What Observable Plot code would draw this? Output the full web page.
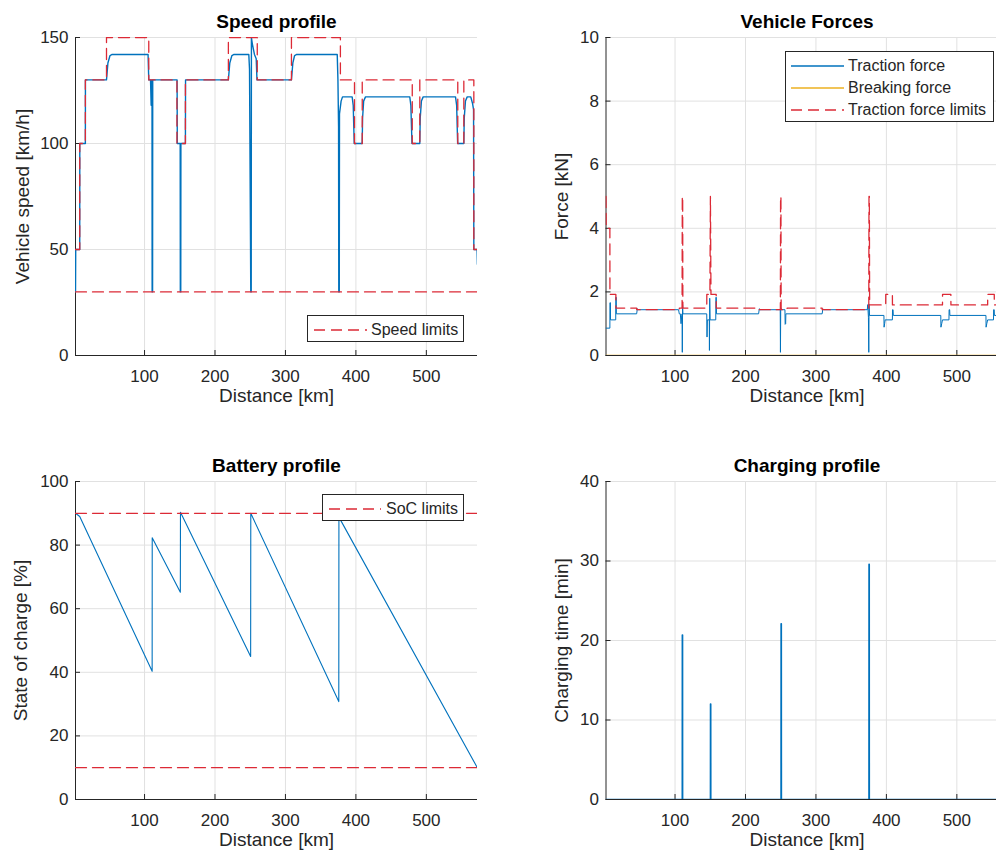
<!DOCTYPE html>
<html>
<head>
<meta charset="utf-8">
<script src="https://cdn.jsdelivr.net/npm/d3@7"></script>
<script src="https://cdn.jsdelivr.net/npm/@observablehq/plot@0.6"></script>
<style>
  html, body { margin: 0; padding: 0; background: #fff; }
  body { width: 996px; height: 860px; overflow: hidden; position: relative; font-family: "Liberation Sans", Arial, sans-serif; }
  .legend { position: absolute; background: #fff; border: 1px solid #262626; box-sizing: border-box; }
  .legend .row { position: absolute; left: 0; right: 0; height: 20px; }
  .legend svg { position: absolute; top: 0; }
  .legend span { position: absolute; top: 0; line-height: 20px; font-size: 16px; color: #262626; white-space: nowrap; }
</style>
</head>
<body>
<script>
// ---------- shared axis values ----------
const xDomain = [2, 572.6];
const xTicks = [100, 200, 300, 400, 500];
const speedTicks = [0, 50, 100, 150];
const forceTicks = [0, 2, 4, 6, 8, 10];
const socTicks = [0, 20, 40, 60, 80, 100];
const chargeTicks = [0, 10, 20, 30, 40];

// ---------- Speed profile [distance km, speed km/h] ----------
const vehicleSpeed = [[2,30],[2.3,50],[8,50],[8.1,100],[16,100],[16.1,130],[46,130],[48,138],[51,141.5],[54,142],[105,142],[106,130],[108.5,130],[109.4,118],[110.2,130],[110.6,130],[110.8,30],[111.4,30],[111.6,130],[146.2,130],[146.5,100],[150.6,100],[150.8,30],[151.4,30],[151.6,100],[158,100],[158.2,130],[219,130],[221,138],[224,141.5],[227,142],[248,142],[249,135],[250.8,30],[251.4,30],[251.7,150],[253,147],[256,142],[258.5,140],[259.6,130],[308.5,130],[310.5,138],[313,141.5],[316,142],[373.5,142],[374.5,130],[375.4,108],[375.7,30],[376.4,30],[376.7,114],[379,120],[381,122],[394.7,122],[396.2,118],[397.6,100],[408.9,100],[409.5,112],[411,120],[413.6,122],[476.5,122],[478,118],[479.6,100],[490.7,100],[491.3,112],[493,120],[495.5,122],[541.4,122],[543,118],[544.4,100],[553.2,100],[553.8,112],[555.5,120],[558,122],[563,122],[565.5,119],[567,116],[567.4,50],[572,50],[572.5,43]];
const speedLimitMax = [[2,50],[8,50],[8,100],[16,100],[16,130],[46,130],[46,150],[106,150],[106,130],[146,130],[146,100],[158,100],[158,130],[219,130],[219,150],[260,150],[260,130],[308.5,130],[308.5,150],[378,150],[378,130],[398,130],[398,100],[409,100],[409,130],[480,130],[480,100],[490.7,100],[490.7,130],[544.6,130],[544.6,100],[553.2,100],[553.2,130],[567.4,130],[567.4,50],[572.6,50]];
const speedLimitMin = [[2,30],[572.6,30]];

// ---------- Vehicle forces [distance km, force kN] ----------
const tractionForce = [[2,0.86],[7.5,0.86],[7.6,1.66],[8.3,1.66],[8.4,1.12],[15.8,1.12],[15.9,1.83],[16.6,1.83],[16.7,1.31],[45.5,1.31],[46.5,1.47],[48,1.44],[105,1.44],[106,1.31],[107.5,1.31],[108.5,1.0],[109.5,1.25],[110,1.31],[110.3,0.1],[110.7,1.6],[111.2,1.31],[145,1.31],[145.4,0.58],[145.9,1.12],[148.6,1.12],[148.8,0.16],[149.2,1.8],[149.8,1.12],[157.8,1.12],[158,1.83],[158.6,1.83],[158.8,1.31],[218.6,1.31],[219.6,1.47],[221,1.44],[249.3,1.44],[249.6,0.1],[250,1.5],[250.6,1.44],[256,1.44],[256.3,0.98],[257,1.0],[257.3,1.31],[308.8,1.31],[309.8,1.47],[311,1.44],[372.9,1.44],[373.5,1.6],[374.5,1.2],[375,0.1],[375.4,1.62],[376,1.26],[396.5,1.26],[396.7,0.89],[397.5,1.0],[398.2,1.12],[408.5,1.12],[408.7,1.44],[409.5,1.44],[409.8,1.26],[477.2,1.26],[477.4,0.89],[478.5,1.0],[479.6,1.12],[488.8,1.12],[489,1.44],[489.8,1.44],[490.1,1.26],[541.3,1.26],[541.5,0.89],[542.5,1.0],[543.7,1.12],[552,1.12],[552.2,1.44],[553,1.44],[553.3,1.26],[566.5,1.26],[567,0.5],[567.5,0.86],[572.5,0.86]];
const breakingForce = [[2,0],[572.6,0]];
const tractionLimit = [[2,5],[2.3,4],[7.5,4],[7.6,1.92],[16,1.92],[16.1,1.49],[45.5,1.49],[45.6,1.44],[106,1.44],[106.1,1.49],[110,1.49],[110.3,5],[110.8,5],[111.1,1.49],[145,1.49],[145.1,1.92],[149.5,1.92],[150.2,5],[151,1.92],[158.4,1.92],[158.5,1.49],[218.6,1.49],[218.7,1.44],[249.5,1.44],[249.8,5],[250.3,5],[250.6,1.44],[259,1.44],[259.1,1.49],[308.8,1.49],[308.9,1.44],[375,1.44],[375.3,5],[375.8,5],[376.2,1.59],[399,1.59],[399.1,1.92],[408.5,1.92],[408.6,1.59],[479.6,1.59],[479.7,1.92],[491.5,1.92],[491.6,1.59],[543.7,1.59],[543.8,1.92],[553.1,1.92],[553.2,1.59],[567,1.59],[567.1,4],[572.6,4]];

// ---------- Battery profile [distance km, SoC %] ----------
const stateOfCharge = [[2,90],[8,89],[110.8,40.3],[110.9,82.3],[150.8,65.2],[151,90.3],[250.6,45],[250.8,90],[375.7,30.8],[375.9,88.8],[572.6,9.9]];
const socLimitMax = [[2,90],[572.6,90]];
const socLimitMin = [[2,10],[572.6,10]];

// ---------- Charging profile [distance km, minutes] ----------
const chargingTime = [[2,0],[110.2,0],[110.3,20.7],[110.7,20.7],[110.8,0],[150.2,0],[150.3,12],[150.7,12],[150.8,0],[250.4,0],[250.5,22.1],[250.9,22.1],[251,0],[375.2,0],[375.3,29.6],[375.7,29.6],[375.8,0],[572.6,0]];

// ---------- styles ----------
const BLUE = "#0072BD", RED = "#dc2a36", YELLOW = "#EDB120", AXIS = "#262626", GRID = "#e1e1e1";
const DASH = "11,6";
const PW = 402, PH = 318;

function panel({left, top, marginLeft, title, ylabel, ylabelDx, yDomain, yTicks, marks}) {
  const chart = Plot.plot({
    width: 500, height: 430,
    marginLeft, marginRight: 500 - marginLeft - PW, marginTop: 37, marginBottom: 430 - 37 - PH,
    x: {domain: xDomain},
    y: {domain: yDomain},
    style: {fontFamily: '"Liberation Sans", Arial, sans-serif', fontSize: "17px", color: AXIS, background: "white", maxWidth: "none", overflow: "visible"},
    marks: [
      Plot.ruleX(xTicks, {x: d => d, stroke: GRID, strokeWidth: 1}),
      Plot.ruleY(yTicks.slice(1), {y: d => d, stroke: GRID, strokeWidth: 1}),
      Plot.ruleY([yDomain[0]], {y: d => d, stroke: AXIS, strokeWidth: 1}),
      Plot.ruleX([xDomain[0]], {x: d => d, stroke: AXIS, strokeWidth: 1}),
      Plot.tickX(xTicks, {x: d => d, insetTop: PH - 5, stroke: AXIS}),
      Plot.tickY(yTicks, {y: d => d, insetRight: PW - 5, stroke: AXIS}),
      Plot.axisX({ticks: xTicks, tickSize: 0, tickPadding: 14.5, label: null, fontSize: 17}),
      Plot.axisY({ticks: yTicks, tickSize: 0, tickPadding: 7, label: null, fontSize: 17}),
      ...marks,
      Plot.text([title], {text: d => d, frameAnchor: "top", lineAnchor: "middle", textAnchor: "middle", dy: -15.5, fontSize: 19, fontWeight: "bold", fill: "#000"}),
      Plot.text([ylabel], {text: d => d, frameAnchor: "left", lineAnchor: "middle", textAnchor: "middle", dx: -ylabelDx, rotate: -90, fontSize: 19, fill: AXIS}),
      Plot.text(["Distance [km]"], {text: d => d, frameAnchor: "bottom", lineAnchor: "middle", textAnchor: "middle", dy: 40.5, fontSize: 19, fill: AXIS})
    ]
  });
  chart.style.position = "absolute";
  chart.style.left = left + "px";
  chart.style.top = top + "px";
  document.body.appendChild(chart);
}

const lineOf = (data, stroke, extra = {}) =>
  Plot.line(data, {x: d => d[0], y: d => d[1], stroke, strokeWidth: 1.3, clip: true, ...extra});

panel({
  left: 0, top: 0, marginLeft: 75, title: "Speed profile", ylabel: "Vehicle speed [km/h]", ylabelDx: 53,
  yDomain: [0, 150], yTicks: speedTicks,
  marks: [
    lineOf(vehicleSpeed, BLUE, {strokeWidth: 1.4}),
    lineOf(speedLimitMax, RED, {strokeDasharray: DASH}),
    lineOf(speedLimitMin, RED, {strokeDasharray: DASH})
  ]
});

panel({
  left: 530, top: 0, marginLeft: 75.5, title: "Vehicle Forces", ylabel: "Force [kN]", ylabelDx: 44,
  yDomain: [0, 10], yTicks: forceTicks,
  marks: [
    lineOf(tractionForce, BLUE, {strokeWidth: 1}),
    lineOf(breakingForce, YELLOW, {strokeWidth: 1.3}),
    lineOf(tractionLimit, RED, {strokeDasharray: DASH})
  ]
});

panel({
  left: 0, top: 444, marginLeft: 75, title: "Battery profile", ylabel: "State of charge [%]", ylabelDx: 55,
  yDomain: [0, 100], yTicks: socTicks,
  marks: [
    lineOf(stateOfCharge, BLUE, {strokeWidth: 1.1}),
    lineOf(socLimitMax, RED, {strokeDasharray: DASH}),
    lineOf(socLimitMin, RED, {strokeDasharray: DASH})
  ]
});

panel({
  left: 530, top: 444, marginLeft: 75.5, title: "Charging profile", ylabel: "Charging time [min]", ylabelDx: 44,
  yDomain: [0, 40], yTicks: chargeTicks,
  marks: [
    lineOf(chargingTime, BLUE, {strokeWidth: 1.5})
  ]
});

// ---------- legends ----------
function legend({left, top, width, height, sampleX, textX, rows}) {
  const box = document.createElement("div");
  box.className = "legend";
  Object.assign(box.style, {left: left + "px", top: top + "px", width: width + "px", height: height + "px"});
  rows.forEach(r => {
    const row = document.createElement("div");
    row.className = "row";
    row.style.top = (r.cy - top - 10) + "px";
    const dash = r.dash ? `stroke-dasharray="${r.dash}"` : "";
    row.innerHTML = `<svg width="${r.len + 2}" height="20" style="left:${sampleX - left - 1}px"><line x1="1" x2="${r.len + 1}" y1="10" y2="10" stroke="${r.color}" stroke-width="${r.w}" ${dash}/></svg><span style="left:${textX - left - 1}px">${r.label}</span>`;
    box.appendChild(row);
  });
  document.body.appendChild(box);
}

legend({left: 307, top: 315, width: 157, height: 27, sampleX: 313, textX: 371,
  rows: [{cy: 328.5, color: RED, w: 1.3, dash: DASH, len: 53, label: "Speed limits"}]});

legend({left: 785, top: 51, width: 209, height: 71, sampleX: 790, textX: 848,
  rows: [
    {cy: 65, color: BLUE, w: 1.3, len: 53, label: "Traction force"},
    {cy: 87, color: YELLOW, w: 1.3, len: 53, label: "Breaking force"},
    {cy: 109, color: RED, w: 1.3, dash: DASH, len: 53, label: "Traction force limits"}
  ]});

legend({left: 322, top: 494, width: 142, height: 27, sampleX: 328, textX: 386,
  rows: [{cy: 507.5, color: RED, w: 1.3, dash: DASH, len: 52, label: "SoC limits"}]});
</script>
</body>
</html>
